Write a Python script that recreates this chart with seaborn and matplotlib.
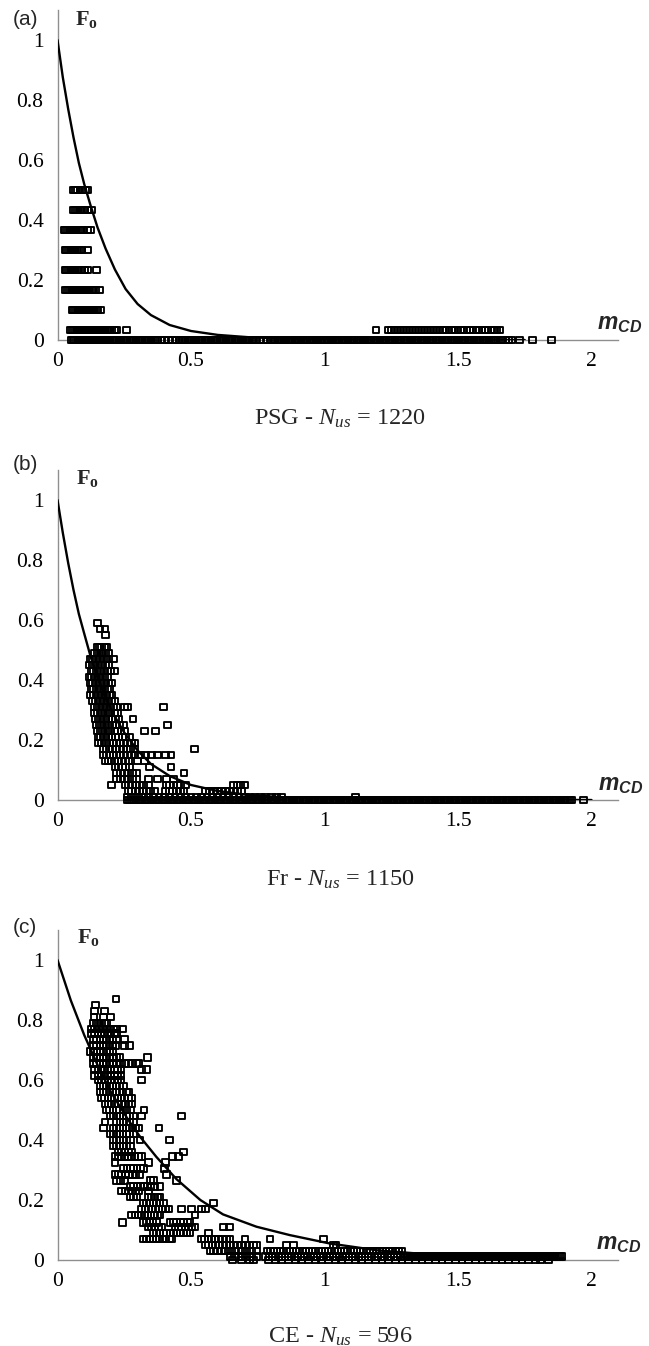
import matplotlib
matplotlib.use("Agg")
import matplotlib.pyplot as plt
import numpy as np
import pandas as pd
import seaborn as sns

# ---------------- DATA ----------------
# Panel (a) PSG: F levels and the m_CD values of the points on each level
psg_levels = [0.5, 0.4333, 0.3667, 0.3, 0.2333, 0.1667, 0.1, 0.0333, 0.0]
psg_rows = [
    [0.060, 0.068, 0.076, 0.084, 0.094, 0.104, 0.114],
    [0.060, 0.067, 0.074, 0.081, 0.088, 0.095, 0.102, 0.112, 0.126],
    [0.024, 0.031, 0.038, 0.045, 0.052, 0.059, 0.066, 0.073, 0.080, 0.087, 0.095, 0.111, 0.124],
    [0.028, 0.035, 0.042, 0.049, 0.056, 0.063, 0.070, 0.077, 0.084, 0.091, 0.114],
    [0.028, 0.035, 0.042, 0.049, 0.056, 0.063, 0.070, 0.077, 0.084, 0.091, 0.100, 0.114, 0.146],
    [0.031, 0.038, 0.045, 0.052, 0.059, 0.066, 0.073, 0.080, 0.087, 0.094, 0.101, 0.108, 0.115,
     0.122, 0.129, 0.136, 0.143, 0.156],
    [0.054, 0.061, 0.068, 0.075, 0.082, 0.089, 0.096, 0.103, 0.110, 0.117, 0.124, 0.131, 0.138,
     0.145, 0.152, 0.160],
    [0.048, 0.055, 0.062, 0.069, 0.076, 0.083, 0.090, 0.097, 0.104, 0.111, 0.118, 0.125, 0.132,
     0.139, 0.146, 0.153, 0.160, 0.167, 0.174, 0.181, 0.188, 0.195, 0.203, 0.212, 0.222, 0.259,
     1.193, 1.240, 1.250, 1.262, 1.272, 1.284, 1.296, 1.306, 1.318, 1.330, 1.340, 1.352, 1.364,
     1.374, 1.386, 1.398, 1.408, 1.420, 1.432, 1.442, 1.454, 1.466, 1.476, 1.488, 1.500, 1.510,
     1.522, 1.534, 1.544, 1.556, 1.568, 1.578, 1.590, 1.602, 1.612, 1.624, 1.636, 1.646, 1.657],
    [0.052, 0.058, 0.064, 0.071, 0.078, 0.085, 0.092, 0.099, 0.106, 0.113, 0.120, 0.127, 0.134,
     0.141, 0.148, 0.155, 0.162, 0.169, 0.176, 0.183, 0.190, 0.198, 0.206, 0.214, 0.222, 0.230,
     0.238, 0.246, 0.254, 0.262, 0.270, 0.278, 0.286, 0.294, 0.302, 0.310, 0.318, 0.326, 0.334,
     0.342, 0.350, 0.358, 0.366, 0.374, 0.388, 0.402, 0.416, 0.430, 0.444, 0.455, 0.463, 0.471,
     0.479, 0.487, 0.495, 0.503, 0.511, 0.519, 0.527, 0.535, 0.543, 0.551, 0.559, 0.567, 0.575,
     0.583, 0.591, 0.599, 0.607, 0.615, 0.623, 0.631, 0.639, 0.647, 0.655, 0.663, 0.671, 0.679,
     0.687, 0.695, 0.703, 0.711, 0.719, 0.727, 0.735, 0.743, 0.758, 0.773, 0.788, 0.800, 0.808,
     0.816, 0.824, 0.832, 0.840, 0.848, 0.856, 0.864, 0.872, 0.880, 0.888, 0.896, 0.904, 0.912,
     0.920, 0.928, 0.936, 0.944, 0.952, 0.960, 0.968, 0.976, 0.984, 0.992, 1.000, 1.008, 1.016,
     1.024, 1.032, 1.040, 1.048, 1.056, 1.064, 1.072, 1.080, 1.088, 1.096, 1.104, 1.112, 1.120,
     1.128, 1.136, 1.144, 1.152, 1.160, 1.168, 1.176, 1.184, 1.192, 1.200, 1.208, 1.216, 1.224,
     1.232, 1.240, 1.248, 1.256, 1.264, 1.272, 1.280, 1.288, 1.296, 1.304, 1.312, 1.320, 1.328,
     1.336, 1.344, 1.352, 1.360, 1.368, 1.376, 1.384, 1.392, 1.400, 1.408, 1.416, 1.424, 1.432,
     1.440, 1.448, 1.456, 1.464, 1.472, 1.480, 1.488, 1.496, 1.504, 1.512, 1.520, 1.528, 1.536,
     1.544, 1.552, 1.560, 1.568, 1.576, 1.584, 1.592, 1.600, 1.608, 1.616, 1.624, 1.632, 1.640,
     1.646, 1.658, 1.668, 1.679, 1.690, 1.702, 1.730, 1.780, 1.850],
]
psg_curve_m = [0, 0.02, 0.04, 0.06, 0.08, 0.10, 0.125, 0.15, 0.18, 0.215, 0.255, 0.30, 0.35,
               0.42, 0.50, 0.60, 0.72, 0.85, 1.0, 1.2, 1.45, 1.75]
psg_curve_f = [1.0, 0.875, 0.77, 0.675, 0.59, 0.52, 0.445, 0.375, 0.305, 0.235, 0.17, 0.12, 0.083,
               0.05, 0.03, 0.017, 0.009, 0.005, 0.0025, 0.001, 0.0003, 0.0]

# Panel (b) Fr
fr_levels = [0.59, 0.57, 0.55, 0.51, 0.49, 0.47, 0.45, 0.43, 0.41, 0.39, 0.37, 0.35, 0.33, 0.31,
             0.29, 0.27, 0.25, 0.23, 0.21, 0.19, 0.17, 0.15, 0.13, 0.11, 0.09, 0.07, 0.05, 0.03,
             0.01, 0.0]
fr_rows = [
    [0.149],
    [0.159, 0.178],
    [0.180],
    [0.150, 0.158, 0.166, 0.175, 0.184],
    [0.140, 0.148, 0.156, 0.164, 0.172, 0.180, 0.190],
    [0.122, 0.132, 0.142, 0.152, 0.162, 0.172, 0.182, 0.192, 0.209],
    [0.120, 0.130, 0.140, 0.150, 0.160, 0.170, 0.180, 0.190],
    [0.126, 0.136, 0.146, 0.156, 0.166, 0.176, 0.186, 0.198, 0.213],
    [0.118, 0.128, 0.138, 0.148, 0.158, 0.168, 0.178, 0.188],
    [0.122, 0.132, 0.142, 0.152, 0.162, 0.172, 0.182, 0.192, 0.202],
    [0.126, 0.136, 0.146, 0.156, 0.166, 0.176, 0.186, 0.196],
    [0.124, 0.134, 0.144, 0.154, 0.164, 0.174, 0.184, 0.194, 0.204],
    [0.132, 0.142, 0.152, 0.162, 0.172, 0.182, 0.192, 0.202, 0.212],
    [0.138, 0.148, 0.158, 0.168, 0.178, 0.188, 0.198, 0.210, 0.222, 0.250, 0.263, 0.396],
    [0.140, 0.150, 0.160, 0.170, 0.180, 0.190, 0.200, 0.212, 0.226],
    [0.142, 0.152, 0.162, 0.172, 0.182, 0.192, 0.204, 0.216, 0.230, 0.283],
    [0.146, 0.156, 0.166, 0.176, 0.186, 0.196, 0.206, 0.218, 0.232, 0.246, 0.413],
    [0.150, 0.160, 0.170, 0.180, 0.190, 0.200, 0.212, 0.224, 0.238, 0.252, 0.325, 0.367],
    [0.152, 0.162, 0.172, 0.182, 0.192, 0.204, 0.216, 0.228, 0.242, 0.256, 0.270],
    [0.155, 0.165, 0.175, 0.185, 0.196, 0.208, 0.220, 0.234, 0.248, 0.262, 0.276, 0.290],
    [0.172, 0.182, 0.194, 0.206, 0.218, 0.232, 0.246, 0.260, 0.274, 0.290, 0.513],
    [0.172, 0.184, 0.196, 0.208, 0.220, 0.234, 0.248, 0.262, 0.276, 0.290, 0.310, 0.330, 0.353,
     0.375, 0.403, 0.425],
    [0.178, 0.190, 0.202, 0.214, 0.226, 0.240, 0.254, 0.268, 0.300, 0.325],
    [0.215, 0.228, 0.242, 0.256, 0.270, 0.346, 0.425],
    [0.222, 0.236, 0.250, 0.264, 0.280, 0.296, 0.474],
    [0.222, 0.236, 0.250, 0.264, 0.280, 0.296, 0.340, 0.375, 0.408, 0.433],
    [0.203, 0.253, 0.266, 0.280, 0.294, 0.308, 0.322, 0.340, 0.408, 0.420, 0.434, 0.448, 0.462,
     0.478, 0.658, 0.672, 0.686, 0.702],
    [0.265, 0.278, 0.292, 0.306, 0.320, 0.334, 0.348, 0.365, 0.403, 0.418, 0.432, 0.446, 0.460,
     0.474, 0.553, 0.568, 0.583, 0.598, 0.613, 0.628, 0.643, 0.658, 0.673, 0.690],
    [0.260, 0.275, 0.290, 0.305, 0.322, 0.340, 0.360, 0.380, 0.400, 0.420, 0.440, 0.460, 0.480,
     0.500, 0.520, 0.540, 0.560, 0.580, 0.600, 0.620, 0.640, 0.660, 0.680, 0.700, 0.720, 0.740,
     0.760, 0.780, 0.800, 0.820, 0.840, 1.115],
    [0.262, 0.270, 0.278, 0.286, 0.294, 0.302, 0.310, 0.318, 0.326, 0.334, 0.342, 0.350, 0.358,
     0.366, 0.374, 0.382, 0.390, 0.398, 0.406, 0.414, 0.422, 0.430, 0.438, 0.446, 0.454, 0.462,
     0.470, 0.478, 0.486, 0.494, 0.502, 0.510, 0.518, 0.526, 0.534, 0.542, 0.550, 0.558, 0.566,
     0.574, 0.582, 0.590, 0.598, 0.606, 0.614, 0.622, 0.630, 0.638, 0.646, 0.654, 0.662, 0.670,
     0.678, 0.686, 0.694, 0.702, 0.710, 0.718, 0.726, 0.734, 0.742, 0.750, 0.758, 0.766, 0.774,
     0.782, 0.790, 0.798, 0.806, 0.814, 0.822, 0.830, 0.838, 0.846, 0.854, 0.862, 0.870, 0.878,
     0.886, 0.894, 0.902, 0.910, 0.918, 0.926, 0.934, 0.942, 0.950, 0.958, 0.966, 0.974, 0.982,
     0.990, 0.998, 1.006, 1.014, 1.022, 1.030, 1.038, 1.046, 1.054, 1.062, 1.070, 1.078, 1.086,
     1.094, 1.102, 1.110, 1.118, 1.126, 1.134, 1.142, 1.150, 1.158, 1.166, 1.174, 1.182, 1.190,
     1.198, 1.206, 1.214, 1.222, 1.230, 1.238, 1.246, 1.254, 1.262, 1.270, 1.278, 1.286, 1.294,
     1.302, 1.310, 1.318, 1.326, 1.334, 1.342, 1.350, 1.358, 1.366, 1.374, 1.382, 1.390, 1.398,
     1.406, 1.414, 1.422, 1.430, 1.438, 1.446, 1.454, 1.462, 1.470, 1.478, 1.486, 1.494, 1.502,
     1.510, 1.518, 1.526, 1.534, 1.542, 1.550, 1.558, 1.566, 1.574, 1.582, 1.590, 1.598, 1.606,
     1.614, 1.622, 1.630, 1.638, 1.646, 1.654, 1.662, 1.670, 1.678, 1.686, 1.694, 1.702, 1.710,
     1.718, 1.726, 1.734, 1.742, 1.750, 1.758, 1.766, 1.774, 1.782, 1.790, 1.798, 1.806, 1.814,
     1.822, 1.830, 1.838, 1.846, 1.854, 1.862, 1.870, 1.878, 1.886, 1.894, 1.902, 1.910, 1.918,
     1.926, 1.970],
]
fr_curve_m = [0, 0.02, 0.04, 0.06, 0.08, 0.10, 0.125, 0.15, 0.18, 0.21, 0.25, 0.30, 0.35, 0.42,
              0.50, 0.60, 0.72, 0.85, 1.0, 1.2, 1.45, 1.75, 2.0]
fr_curve_f = [1.0, 0.89, 0.79, 0.70, 0.62, 0.555, 0.475, 0.41, 0.34, 0.285, 0.225, 0.165, 0.12,
              0.08, 0.05, 0.03, 0.016, 0.009, 0.005, 0.002, 0.0008, 0.0003, 0.0]

# Panel (c) CE
ce_levels = [0.87, 0.85, 0.83, 0.81, 0.79, 0.77, 0.755, 0.735, 0.715, 0.695, 0.675, 0.655, 0.635,
             0.615, 0.60, 0.58, 0.56, 0.54, 0.52, 0.50, 0.48, 0.46, 0.44, 0.42, 0.40, 0.38, 0.36,
             0.345, 0.325, 0.305, 0.285, 0.265, 0.245, 0.23, 0.21, 0.19, 0.17, 0.15, 0.125, 0.11,
             0.09, 0.07, 0.05, 0.03, 0.012, 0.0]
ce_rows = [
    [0.219],
    [0.142],
    [0.140, 0.175],
    [0.137, 0.172, 0.200],
    [0.135, 0.145, 0.155, 0.165, 0.175, 0.185],
    [0.128, 0.138, 0.148, 0.158, 0.168, 0.178, 0.188, 0.198, 0.210, 0.222, 0.243],
    [0.128, 0.140, 0.152, 0.164, 0.176, 0.188, 0.200, 0.212, 0.222],
    [0.135, 0.147, 0.159, 0.171, 0.183, 0.195, 0.207, 0.220, 0.250],
    [0.135, 0.147, 0.159, 0.171, 0.183, 0.195, 0.207, 0.218, 0.250, 0.269],
    [0.124, 0.136, 0.148, 0.160, 0.172, 0.184, 0.196, 0.208],
    [0.135, 0.147, 0.159, 0.171, 0.183, 0.195, 0.207, 0.220, 0.234, 0.337],
    [0.135, 0.147, 0.159, 0.171, 0.183, 0.195, 0.207, 0.220, 0.234, 0.250, 0.265, 0.280, 0.295,
     0.303],
    [0.140, 0.152, 0.164, 0.176, 0.188, 0.200, 0.212, 0.224, 0.238, 0.315, 0.332],
    [0.140, 0.152, 0.164, 0.176, 0.188, 0.200, 0.212, 0.224, 0.238],
    [0.153, 0.165, 0.177, 0.189, 0.201, 0.213, 0.225, 0.238, 0.315],
    [0.159, 0.171, 0.183, 0.195, 0.207, 0.219, 0.232, 0.247],
    [0.159, 0.171, 0.183, 0.195, 0.207, 0.219, 0.232, 0.245, 0.258, 0.266],
    [0.165, 0.177, 0.189, 0.201, 0.213, 0.225, 0.238, 0.252, 0.266, 0.278],
    [0.178, 0.190, 0.202, 0.214, 0.226, 0.240, 0.254, 0.268, 0.278],
    [0.184, 0.196, 0.208, 0.220, 0.232, 0.245, 0.260, 0.275, 0.324],
    [0.197, 0.209, 0.221, 0.233, 0.245, 0.258, 0.271, 0.284, 0.315, 0.465],
    [0.178, 0.222, 0.234, 0.246, 0.258, 0.270, 0.284],
    [0.172, 0.209, 0.221, 0.233, 0.245, 0.257, 0.269, 0.281, 0.293, 0.303, 0.380],
    [0.197, 0.209, 0.221, 0.233, 0.245, 0.258, 0.271, 0.284],
    [0.209, 0.221, 0.233, 0.245, 0.258, 0.272, 0.309, 0.418],
    [0.209, 0.221, 0.233, 0.245, 0.258, 0.272],
    [0.228, 0.240, 0.252, 0.265, 0.278, 0.471],
    [0.215, 0.227, 0.239, 0.251, 0.263, 0.275, 0.290, 0.303, 0.315, 0.431, 0.453],
    [0.215, 0.340, 0.405],
    [0.247, 0.260, 0.273, 0.286, 0.298, 0.310, 0.322, 0.400],
    [0.215, 0.228, 0.241, 0.254, 0.267, 0.280, 0.294, 0.309, 0.409],
    [0.222, 0.236, 0.253, 0.347, 0.359, 0.446],
    [0.272, 0.285, 0.298, 0.311, 0.324, 0.337, 0.350, 0.364, 0.384],
    [0.240, 0.253, 0.266, 0.280, 0.294, 0.303, 0.340],
    [0.272, 0.285, 0.297, 0.340, 0.352, 0.364, 0.376, 0.384],
    [0.322, 0.334, 0.346, 0.358, 0.370, 0.384, 0.397, 0.584],
    [0.315, 0.328, 0.341, 0.354, 0.367, 0.380, 0.393, 0.406, 0.415, 0.465, 0.503, 0.540, 0.553],
    [0.278, 0.290, 0.302, 0.314, 0.326, 0.338, 0.350, 0.362, 0.374, 0.384, 0.515],
    [0.242, 0.322, 0.334, 0.346, 0.358, 0.372, 0.421, 0.434, 0.447, 0.460, 0.473, 0.486, 0.496],
    [0.340, 0.352, 0.364, 0.377, 0.390, 0.440, 0.452, 0.465, 0.478, 0.490, 0.503, 0.515, 0.621,
     0.644],
    [0.359, 0.371, 0.383, 0.396, 0.409, 0.422, 0.434, 0.447, 0.460, 0.472, 0.484, 0.496, 0.565],
    [0.322, 0.334, 0.346, 0.358, 0.370, 0.382, 0.394, 0.406, 0.418, 0.428, 0.540, 0.552, 0.564,
     0.576, 0.590, 0.604, 0.618, 0.632, 0.646, 0.702, 0.796, 0.996],
    [0.553, 0.566, 0.579, 0.592, 0.605, 0.618, 0.632, 0.646, 0.660, 0.675, 0.690, 0.705, 0.720,
     0.734, 0.746, 0.858, 0.883, 1.033, 1.043],
    [0.571, 0.585, 0.600, 0.615, 0.630, 0.646, 0.662, 0.678, 0.694, 0.710, 0.728, 0.746, 0.786,
     0.798, 0.810, 0.822, 0.834, 0.846, 0.858, 0.870, 0.882, 0.894, 0.906, 0.918, 0.930, 0.942,
     0.954, 0.966, 0.978, 0.990, 1.002, 1.014, 1.026, 1.038, 1.050, 1.062, 1.074, 1.086, 1.098,
     1.110, 1.122, 1.134, 1.146, 1.158, 1.170, 1.182, 1.194, 1.206, 1.218, 1.230, 1.242, 1.254,
     1.266, 1.278, 1.290],
    [0.646, 0.662, 0.678, 0.694, 0.710, 0.728, 0.746, 0.780, 0.792, 0.804, 0.816, 0.828, 0.840,
     0.852, 0.864, 0.876, 0.888, 0.900, 0.912, 0.924, 0.936, 0.948, 0.960, 0.972, 0.984, 0.996,
     1.008, 1.020, 1.032, 1.044, 1.056, 1.068, 1.080, 1.092, 1.104, 1.116, 1.128, 1.140, 1.152,
     1.164, 1.176, 1.188, 1.200, 1.212, 1.224, 1.236, 1.248, 1.260, 1.272, 1.284, 1.296, 1.300,
     1.307, 1.314, 1.321, 1.328, 1.335, 1.342, 1.349, 1.356, 1.363, 1.370, 1.377, 1.384, 1.391,
     1.398, 1.405, 1.412, 1.419, 1.426, 1.433, 1.440, 1.447, 1.454, 1.461, 1.468, 1.475, 1.482,
     1.489, 1.496, 1.503, 1.510, 1.517, 1.524, 1.531, 1.538, 1.545, 1.552, 1.559, 1.566, 1.573,
     1.580, 1.587, 1.594, 1.601, 1.608, 1.615, 1.622, 1.629, 1.636, 1.643, 1.650, 1.657, 1.664,
     1.671, 1.678, 1.685, 1.692, 1.699, 1.706, 1.713, 1.720, 1.727, 1.734, 1.741, 1.748, 1.755,
     1.762, 1.769, 1.776, 1.783, 1.790, 1.797, 1.804, 1.811, 1.818, 1.825, 1.832, 1.839, 1.846,
     1.853, 1.860, 1.867, 1.874, 1.881, 1.888],
    [0.655, 0.690, 0.720, 0.735, 0.790, 0.815, 0.840, 0.865, 0.890, 0.915, 0.940, 0.965, 0.990,
     1.015, 1.040, 1.065, 1.090, 1.115, 1.140, 1.165, 1.190, 1.215, 1.240, 1.265, 1.290, 1.315,
     1.340, 1.365, 1.390, 1.415, 1.440, 1.465, 1.490, 1.515, 1.540, 1.565, 1.590, 1.615, 1.640,
     1.665, 1.690, 1.715, 1.740, 1.765, 1.790, 1.810, 1.840],
]
ce_curve_m = [0, 0.05, 0.10, 0.15, 0.20, 0.265, 0.31, 0.37, 0.445, 0.535, 0.62, 0.745, 0.87, 1.02,
              1.2, 1.4, 1.6, 1.8, 1.9]
ce_curve_f = [1.0, 0.865, 0.75, 0.65, 0.56, 0.467, 0.41, 0.344, 0.27, 0.2, 0.152, 0.111, 0.083,
              0.055, 0.032, 0.018, 0.01, 0.006, 0.005]

x_ticks = [0, 0.5, 1, 1.5, 2]
x_tick_labels = ["0", "0.5", "1", "1.5", "2"]
y_ticks = [0, 0.2, 0.4, 0.6, 0.8, 1]
y_tick_labels = ["0", "0.2", "0.4", "0.6", "0.8", "1"]
panel_tags = ["(a)", "(b)", "(c)"]
captions = [r"PSG - $N_{us}$ = 1220", r"Fr - $N_{us}$ = 1150", r"CE - $N_{us}$ = 596"]

# ---------------- STYLE ----------------
sns.set_theme(style="white")
plt.rcParams["font.family"] = ["Liberation Serif", "DejaVu Serif"]
plt.rcParams["mathtext.fontset"] = "custom"
plt.rcParams["mathtext.rm"] = "Liberation Serif"
plt.rcParams["mathtext.it"] = "Liberation Serif:italic"
plt.rcParams["mathtext.bf"] = "Liberation Serif:bold"
plt.rcParams["mathtext.sf"] = "Liberation Sans:italic:bold"

W, H = 649, 1346
fig = plt.figure(figsize=(W / 100, H / 100), dpi=100)
fig.patch.set_facecolor("white")

AX_LEFT, AX_RIGHT = 57.5, 618.2
AX_ZERO_Y = [340, 800, 1260]     # pixel row of F = 0 in each panel
PX_PER_F = 300

GREY = "#8f8f8f"


def tx(x, y, s, **kw):
    fig.text(x / W, 1 - y / H, s, **kw)


def make_df(levels, rows):
    ms, fs = [], []
    for lev, row in zip(levels, rows):
        ms.extend(row)
        fs.extend([lev] * len(row))
    return pd.DataFrame({"m": ms, "F": fs})


panels = [
    (psg_levels, psg_rows, psg_curve_m, psg_curve_f),
    (fr_levels, fr_rows, fr_curve_m, fr_curve_f),
    (ce_levels, ce_rows, ce_curve_m, ce_curve_f),
]

tag_pos = [(13, 25), (13, 470), (13, 933)]
f_pos = [(75, 25), (76, 484), (77, 943)]
m_pos = [(597, 330), (598, 791), (596, 1250)]
cap_y = [425, 886, 1343]

for i, (levels, rows, cm, cf) in enumerate(panels):
    zero = AX_ZERO_Y[i]
    h = 1.1 * PX_PER_F
    ax = fig.add_axes([AX_LEFT / W, (H - zero) / H, (AX_RIGHT - AX_LEFT) / W, h / H])
    df = make_df(levels, rows)
    sns.scatterplot(data=df, x="m", y="F", ax=ax, marker="s", s=24, color="black",
                    facecolor="none", edgecolor="black", linewidth=1.35, clip_on=False,
                    zorder=3, legend=False)
    sns.lineplot(x=cm, y=cf, ax=ax, color="black", linewidth=1.7, sort=False,
                 estimator=None, zorder=4)
    ax.set_xlim(0, 2.1)
    ax.set_ylim(0, 1.1)
    ax.set_xticks(x_ticks)
    ax.set_xticklabels(x_tick_labels)
    ax.set_yticks(y_ticks)
    ax.set_yticklabels(y_tick_labels)
    ax.set_xlabel("")
    ax.set_ylabel("")
    for s in ["top", "right"]:
        ax.spines[s].set_visible(False)
    for s in ["left", "bottom"]:
        ax.spines[s].set_color(GREY)
        ax.spines[s].set_linewidth(1.0)
    ax.tick_params(axis="both", direction="out", length=4, width=1.0, color=GREY,
                   labelsize=15.5, labelcolor="black")
    ax.tick_params(axis="y", pad=6)
    ax.tick_params(axis="x", pad=5)
    for lab in ax.get_xticklabels() + ax.get_yticklabels():
        lab.set_family("Liberation Serif")
    ax.set_facecolor("none")

    tx(*tag_pos[i], panel_tags[i], family=["Liberation Sans", "DejaVu Sans"], fontsize=15,
       ha="left", va="baseline")
    tx(*f_pos[i], r"$\mathbf{F}_{\mathbf{o}}$", fontsize=16, ha="left", va="baseline")
    tx(*m_pos[i], r"$\mathsf{m}_{\mathsf{CD}}$", fontsize=16.5, ha="left", va="baseline")
    tx(340, cap_y[i], captions[i], fontsize=17.5, ha="center", va="baseline")

fig.savefig("out.png", dpi=100, facecolor="white")
